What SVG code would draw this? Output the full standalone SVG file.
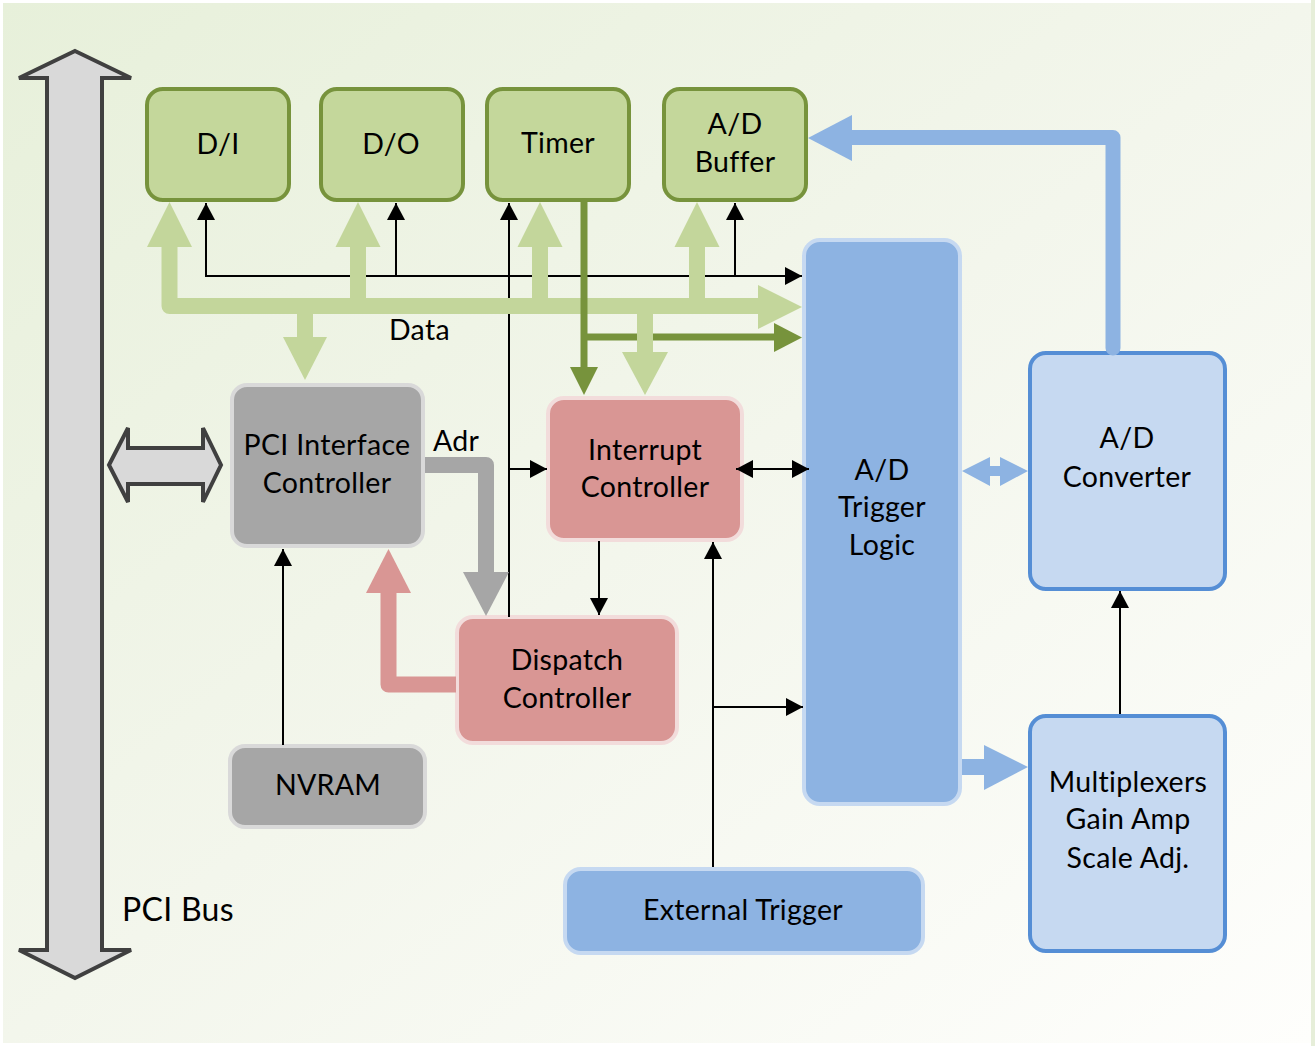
<svg xmlns="http://www.w3.org/2000/svg" width="1315" height="1046" viewBox="0 0 1315 1046">
<defs>
<linearGradient id="bg" x1="0" y1="0" x2="1" y2="1">
<stop offset="0" stop-color="#e7f0da"/>
<stop offset="0.5" stop-color="#f3f6ec"/>
<stop offset="1" stop-color="#fefefc"/>
</linearGradient>
<marker id="ah" markerUnits="userSpaceOnUse" markerWidth="18" markerHeight="18" refX="17" refY="9" orient="auto-start-reverse">
<path d="M0,0 L17,9 L0,18 Z" fill="#000"/>
</marker>
<style>
text{font-family:Lato,"Open Sans","Liberation Sans",sans-serif;font-size:28.5px;letter-spacing:0.3px;fill:#000;text-anchor:middle}
.lbl{text-anchor:start}
.big{font-size:32px}
.g{fill:#c4d79b;stroke:#77933c;stroke-width:4}
.gr{fill:#a6a6a6;stroke:#d9d9d9;stroke-width:4}
.pk{fill:#d99694;stroke:#f2dcdb;stroke-width:4}
.bl{fill:#8db3e2;stroke:#c6d9f1;stroke-width:4}
.lb{fill:#c6d9f1;stroke:#558ed5;stroke-width:4}
.thin{fill:none;stroke:#000;stroke-width:2}
.arr{marker-end:url(#ah)}
.both{marker-start:url(#ah);marker-end:url(#ah)}
.lg{fill:none;stroke:#c3d69b;stroke-width:16;stroke-linejoin:round}
.lgf{fill:#c3d69b}
.dg{fill:none;stroke:#77933c;stroke-width:7;stroke-linecap:round}
.dgf{fill:#77933c}
.bus{fill:#d9d9d9;stroke:#404040;stroke-width:4;stroke-linejoin:miter}
</style>
</defs>
<rect x="0" y="0" width="1315" height="1046" fill="#ffffff"/>
<rect x="1311" y="0" width="4" height="1046" fill="#e6eed9"/>
<rect x="3" y="3" width="1308" height="1040" fill="url(#bg)"/>

<g id="pci-bus">
<path class="bus" d="M75,51 L131,78 L102,78 L102,950 L131,950 L75,978 L19,950 L47,950 L47,78 L19,78 Z"/>
<text class="lbl big" x="122" y="921">PCI Bus</text>
</g>

<g id="di"><rect class="g" x="147" y="89" width="142" height="111" rx="16"/><text x="218" y="154">D/I</text></g>
<g id="do"><rect class="g" x="321" y="89" width="142" height="111" rx="16"/><text x="391" y="154">D/O</text></g>
<g id="timer"><rect class="g" x="487" y="89" width="142" height="111" rx="16"/><text x="558" y="153">Timer</text></g>
<g id="ad-buffer"><rect class="g" x="664" y="89" width="142" height="111" rx="16"/><text x="735" y="134">A/D</text><text x="735" y="172">Buffer</text></g>

<g id="pci-interface"><rect class="gr" x="232" y="385" width="191" height="161" rx="15"/><text x="327" y="455">PCI Interface</text><text x="327" y="493">Controller</text></g>
<g id="nvram"><rect class="gr" x="230" y="746" width="195" height="81" rx="15"/><text x="328" y="795">NVRAM</text></g>

<g id="interrupt"><rect class="pk" x="548" y="398" width="194" height="142" rx="16"/><text x="645" y="460">Interrupt</text><text x="645" y="497">Controller</text></g>
<g id="dispatch"><rect class="pk" x="457" y="617" width="220" height="126" rx="16"/><text x="567" y="670">Dispatch</text><text x="567" y="708">Controller</text></g>

<g id="trigger-logic"><rect class="bl" x="804" y="240" width="156" height="564" rx="16"/><text x="882" y="480">A/D</text><text x="882" y="517">Trigger</text><text x="882" y="555">Logic</text></g>
<g id="ext-trigger"><rect class="bl" x="565" y="869" width="358" height="84" rx="16"/><text x="743" y="920">External Trigger</text></g>

<g id="ad-converter"><rect class="lb" x="1030" y="353" width="195" height="236" rx="16"/><text x="1127" y="448">A/D</text><text x="1127" y="487">Converter</text></g>
<g id="mux"><rect class="lb" x="1030" y="716" width="195" height="235" rx="16"/><text x="1128" y="792">Multiplexers</text><text x="1128" y="829">Gain Amp</text><text x="1128" y="868">Scale Adj.</text></g>

<g id="connectors">
<!-- black thin lines -->
<path class="thin arr" d="M206,276 V203"/>
<path class="thin arr" d="M396,276 V203"/>
<path class="thin arr" d="M735,276 V203"/>
<path class="thin arr" d="M205,276 H802"/>
<path class="thin arr" d="M509,617 V203"/>
<path class="thin arr" d="M509,469 H547"/>
<path class="thin arr" d="M599,541 V615"/>
<path class="thin arr" d="M713,867 V542"/>
<path class="thin arr" d="M713,707 H803"/>
<path class="thin both" d="M736,469 H809"/>
<path class="thin arr" d="M283,745 V549"/>
<path class="thin arr" d="M1120,714 V591"/>

<!-- light green data bus -->
<path class="lg" d="M169.5,247 V306 H758"/>
<path class="lg" d="M358,306 V247 M540,306 V247 M697,306 V247 M305,306 V338"/>
<polygon class="lgf" points="147,247 169.5,202 192,247"/>
<polygon class="lgf" points="335.5,247 358,202 380.5,247"/>
<polygon class="lgf" points="517.5,247 540,202 562.5,247"/>
<polygon class="lgf" points="674.5,247 697,202 719.5,247"/>
<polygon class="lgf" points="758,285 802,307 758,329"/>
<polygon class="lgf" points="283,337 305,380 327,337"/>

<!-- dark green timer lines -->
<path class="dg" d="M584,202 V368"/>
<path class="dg" d="M584,337 H775" style="stroke-linecap:butt"/>
<polygon class="dgf" points="570,367 584,395 598,367"/>
<polygon class="dgf" points="774,323 802,337.5 774,352"/>

<!-- light green down to interrupt -->
<path class="lg" d="M645,306 V353"/>
<polygon class="lgf" points="622,352 645,395 668,352"/>

<!-- grey Adr -->
<path d="M425,465 H486 V573" fill="none" stroke="#a6a6a6" stroke-width="16" stroke-linejoin="round"/>
<polygon points="463,572 486,616 509,572" fill="#a6a6a6"/>

<!-- pink dispatch to PCI -->
<path d="M456,684.5 H388.5 V592" fill="none" stroke="#d99694" stroke-width="16" stroke-linejoin="round"/>
<polygon points="366,593 388.5,549 411,593" fill="#d99694"/>

<!-- blue A/D converter to A/D buffer -->
<path d="M1113,348 V137.5 H851" fill="none" stroke="#8db3e2" stroke-width="15" stroke-linejoin="round" stroke-linecap="round"/>
<polygon points="852,115 808,138 852,161" fill="#8db3e2"/>

<!-- blue trigger to multiplexers -->
<rect x="962" y="759" width="23" height="16" fill="#8db3e2"/>
<polygon points="984,745 1028,767 984,790" fill="#8db3e2"/>

<!-- blue double arrow trigger <-> converter -->
<polygon points="962,471 990,457 990,466 1000,466 1000,457 1028,471 1000,486 1000,476 990,476 990,486" fill="#8db3e2"/>

<!-- PCI bus <-> PCI interface -->
<path class="bus" d="M109,465 L128,428 L128,448 L203,448 L203,428 L221,465 L203,502 L203,484 L128,484 L128,502 Z"/>
<text class="lbl" x="389" y="340">Data</text>
<text class="lbl" x="433" y="451">Adr</text>
</g>
</svg>
